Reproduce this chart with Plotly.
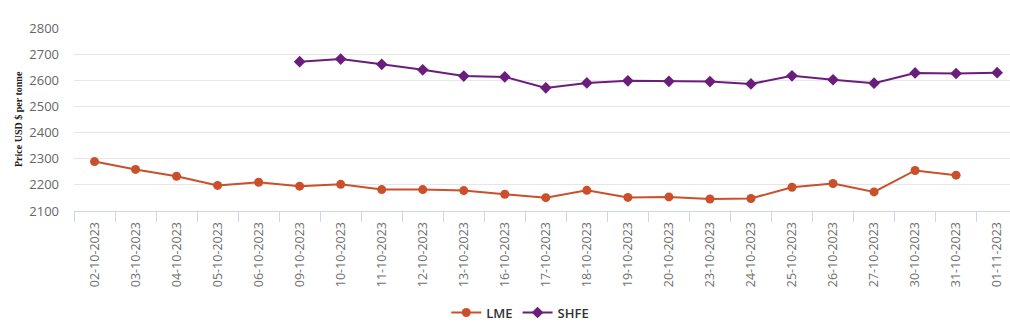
import plotly.graph_objects as go

dates = ["02-10-2023", "03-10-2023", "04-10-2023", "05-10-2023", "06-10-2023",
         "09-10-2023", "10-10-2023", "11-10-2023", "12-10-2023", "13-10-2023",
         "16-10-2023", "17-10-2023", "18-10-2023", "19-10-2023", "20-10-2023",
         "23-10-2023", "24-10-2023", "25-10-2023", "26-10-2023", "27-10-2023",
         "30-10-2023", "31-10-2023", "01-11-2023"]

lme = [2289, 2259, 2233, 2198, 2210, 2195, 2202, 2182, 2182, 2178,
       2164, 2151, 2179, 2152, 2154, 2146, 2148, 2191, 2205, 2173,
       2255, 2237, None]

shfe = [None, None, None, None, None, 2671, 2681, 2661, 2640, 2616,
        2613, 2571, 2590, 2598, 2596, 2595, 2586, 2617, 2602, 2589,
        2628, 2626, 2629]

yticks = [2100, 2200, 2300, 2400, 2500, 2600, 2700, 2800]

LME_C = "#c9502b"
SHFE_C = "#6b1d7b"

fig = go.Figure()
fig.add_trace(go.Scatter(x=dates, y=lme, name="LME", mode="lines+markers",
                         line=dict(color=LME_C, width=2),
                         marker=dict(symbol="circle", size=9, color=LME_C)))
fig.add_trace(go.Scatter(x=dates, y=shfe, name="SHFE", mode="lines+markers",
                         line=dict(color=SHFE_C, width=2),
                         marker=dict(symbol="diamond", size=9, color=SHFE_C)))

W, H = 1010, 329
L, T, B = 73.5, 28, 118
plot_w = W - L

fig.update_layout(
    width=W, height=H,
    margin=dict(l=L, r=0, t=T, b=B, pad=0),
    plot_bgcolor="white", paper_bgcolor="white",
    font=dict(family="Open Sans, Liberation Sans, sans-serif", color="#666666"),
    showlegend=True,
    legend=dict(orientation="h", x=(520 - L) / plot_w, xanchor="center", y=-0.555, yanchor="middle",
                font=dict(size=13, color="#333333", family="Open Sans, sans-serif", weight=600),
                itemwidth=30, tracegroupgap=0),
    xaxis=dict(
        type="category", range=[-0.5, -0.5 + plot_w / 41.05],
        showgrid=False, showline=True, linecolor="#ccd6eb", linewidth=1,
        ticks="outside", tickson="boundaries", ticklen=10, tickcolor="#ccd6eb",
        tickangle=-90, tickfont=dict(size=12.5, color="#707070"),
        ticklabelstandoff=5, zeroline=False,
    ),
    yaxis=dict(
        range=[2100, 2800], tickvals=yticks, showgrid=True, gridcolor="#e6e6e6",
        gridwidth=1, zeroline=False, showline=False,
        tickfont=dict(size=13, color="#666666"), ticks="", ticklabelstandoff=14,
    ),
)

fig.add_annotation(
    text="<b>Price USD $ per tonne</b>", xref="paper", yref="paper",
    x=(18 - L) / plot_w, y=0.5, textangle=-90, showarrow=False,
    font=dict(size=10, color="#222222", family="Liberation Serif, serif"),
    xanchor="center", yanchor="middle",
)

fig.write_html("out.html")
